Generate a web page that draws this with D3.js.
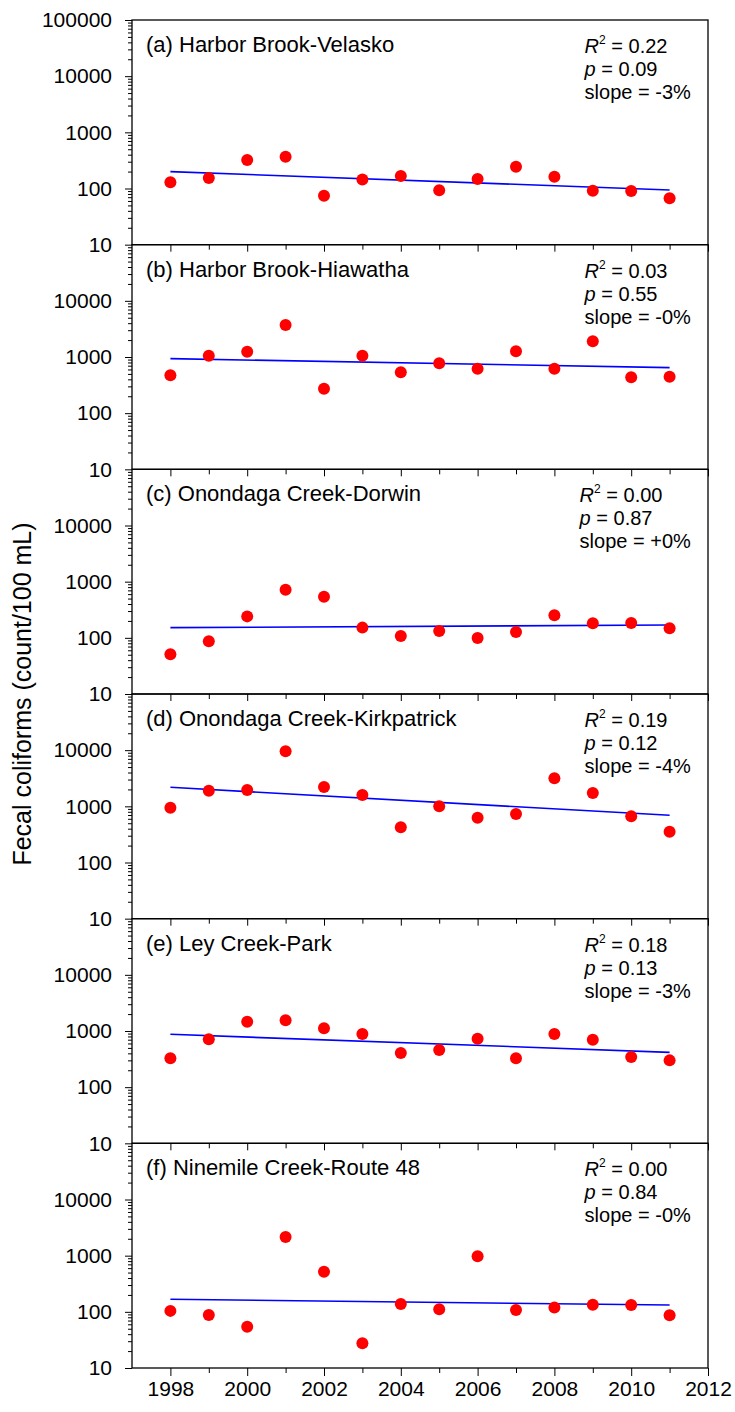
<!DOCTYPE html>
<html>
<head>
<meta charset="utf-8">
<script src="https://cdn.jsdelivr.net/npm/d3@7"></script>
<style>
  body { margin: 0; background: #fff; }
  svg { display: block; font-family: "Liberation Sans", Arial, sans-serif; }
</style>
</head>
<body>
<svg id="chart" width="735" height="1412"></svg>
<script>
// data
const years = [1998, 1999, 2000, 2001, 2002, 2003, 2004, 2005, 2006, 2007, 2008, 2009, 2010, 2011];

const titles = [
  "(a) Harbor Brook-Velasko",
  "(b) Harbor Brook-Hiawatha",
  "(c) Onondaga Creek-Dorwin",
  "(d) Onondaga Creek-Kirkpatrick",
  "(e) Ley Creek-Park",
  "(f) Ninemile Creek-Route 48",
];
const r2Labels = ["0.22", "0.03", "0.00", "0.19", "0.18", "0.00"];
const pLabels = ["0.09", "0.55", "0.87", "0.12", "0.13", "0.84"];
const slopeLabels = ["-3%", "-0%", "+0%", "-4%", "-3%", "-0%"];

const velasko = [129, 154, 322, 369, 74, 144, 167, 93, 148, 245, 162, 91, 90, 67];
const hiawatha = [472, 1056, 1245, 3713, 273, 1056, 533, 771, 620, 1262, 620, 1900, 434, 447];
const dorwin = [51, 87, 241, 720, 540, 152, 108, 132, 99, 127, 252, 181, 184, 148];
const kirkpatrick = [947, 1900, 1953, 9530, 2208, 1591, 423, 1000, 629, 731, 3150, 1727, 664, 354];
const leyPark = [326, 711, 1466, 1549, 1116, 885, 406, 459, 731, 326, 885, 701, 344, 300];
const ninemile = [104, 88, 54, 2149, 519, 27.5, 138, 111, 973, 108, 120, 134, 132, 87];

// regression line ends (1998 and 2011)
const trendStart = [200, 934, 152, 2180, 873, 167];
const trendEnd = [94, 646, 169, 692, 417, 132];

const series = [velasko, hiawatha, dorwin, kirkpatrick, leyPark, ninemile];

const svg = d3.select("#chart");
const plotL = 132, plotR = 708, plotT = 20, plotB = 1368;
const panelH = (plotB - plotT) / series.length;

const x = d3.scaleLinear().domain([1997, 2012]).range([plotL, plotR]);

const decades = [10, 100, 1000, 10000, 100000];
const minors = [];
decades.slice(0, -1).forEach((d) => {
  for (let k = 2; k <= 9; k++) minors.push(d * k);
});
const evenYears = d3.range(1998, 2013, 2);
const oddYears = d3.range(1999, 2012, 2);

series.forEach((vals, i) => {
  const y0 = plotT + i * panelH;
  const y1 = y0 + panelH;
  const last = i === series.length - 1;
  const y = d3.scaleLog().domain([10, 100000]).range([y1, y0]);
  const g = svg.append("g");

  // left axis: decades + minor ticks
  g.append("g")
    .attr("transform", `translate(${plotL},0)`)
    .call(d3.axisLeft(y)
      .tickValues(i === 0 ? decades : decades.slice(0, -1))
      .tickFormat(d3.format("d"))
      .tickSize(7)
      .tickPadding(13));
  g.append("g")
    .attr("transform", `translate(${plotL},0)`)
    .call(d3.axisLeft(y).tickValues(minors).tickFormat("").tickSize(4));

  // bottom ticks
  g.append("g")
    .attr("transform", `translate(0,${y1})`)
    .call(d3.axisBottom(x)
      .tickValues(evenYears)
      .tickFormat(last ? d3.format("d") : "")
      .tickSize(last ? 8 : 7)
      .tickPadding(5));
  g.append("g")
    .attr("transform", `translate(0,${y1})`)
    .call(d3.axisBottom(x).tickValues(oddYears).tickFormat("").tickSize(5));

  g.selectAll(".domain").remove();
  g.selectAll(".tick line").attr("stroke", "#000").attr("stroke-width", 1);
  g.selectAll(".tick text").attr("font-size", 21).attr("fill", "#000")
    .attr("font-family", "Liberation Sans, Arial, sans-serif");

  // frame
  g.append("rect")
    .attr("x", plotL).attr("y", y0)
    .attr("width", plotR - plotL).attr("height", panelH)
    .attr("fill", "none").attr("stroke", "#000").attr("stroke-width", 1.3);

  // trend line
  const line = d3.line().x((d) => x(d[0])).y((d) => y(d[1]));
  g.append("path")
    .attr("d", line([[years[0], trendStart[i]], [years[years.length - 1], trendEnd[i]]]))
    .attr("stroke", "#0000ff").attr("stroke-width", 1.6).attr("fill", "none");

  // points
  g.selectAll("circle.pt")
    .data(vals)
    .join("circle")
    .attr("class", "pt")
    .attr("cx", (d, j) => x(years[j]))
    .attr("cy", (d) => y(d))
    .attr("r", 6)
    .attr("fill", "#ff0000");

  // panel title
  g.append("text")
    .attr("x", plotL + 14).attr("y", y0 + 32)
    .attr("font-size", 22)
    .text(titles[i]);

  // stats block, right-aligned as a block
  const st = g.append("g");
  const t1 = st.append("text").attr("x", 0).attr("y", 33).attr("font-size", 20);
  t1.append("tspan").attr("font-style", "italic").text("R");
  t1.append("tspan").attr("font-size", 12).attr("dy", -9).text("2");
  t1.append("tspan").attr("dy", 9).text(" = " + r2Labels[i]);
  const t2 = st.append("text").attr("x", 0).attr("y", 56).attr("font-size", 20);
  t2.append("tspan").attr("font-style", "italic").text("p");
  t2.append("tspan").text(" = " + pLabels[i]);
  st.append("text").attr("x", 0).attr("y", 79).attr("font-size", 20)
    .text("slope = " + slopeLabels[i]);
  const w = st.node().getBBox().width;
  st.attr("transform", `translate(${692 - w},${y0})`);
});

// y axis title
svg.append("text")
  .attr("transform", `translate(31,${(plotT + plotB) / 2}) rotate(-90)`)
  .attr("text-anchor", "middle")
  .attr("font-size", 25)
  .text("Fecal coliforms (count/100 mL)");
</script>
</body>
</html>
